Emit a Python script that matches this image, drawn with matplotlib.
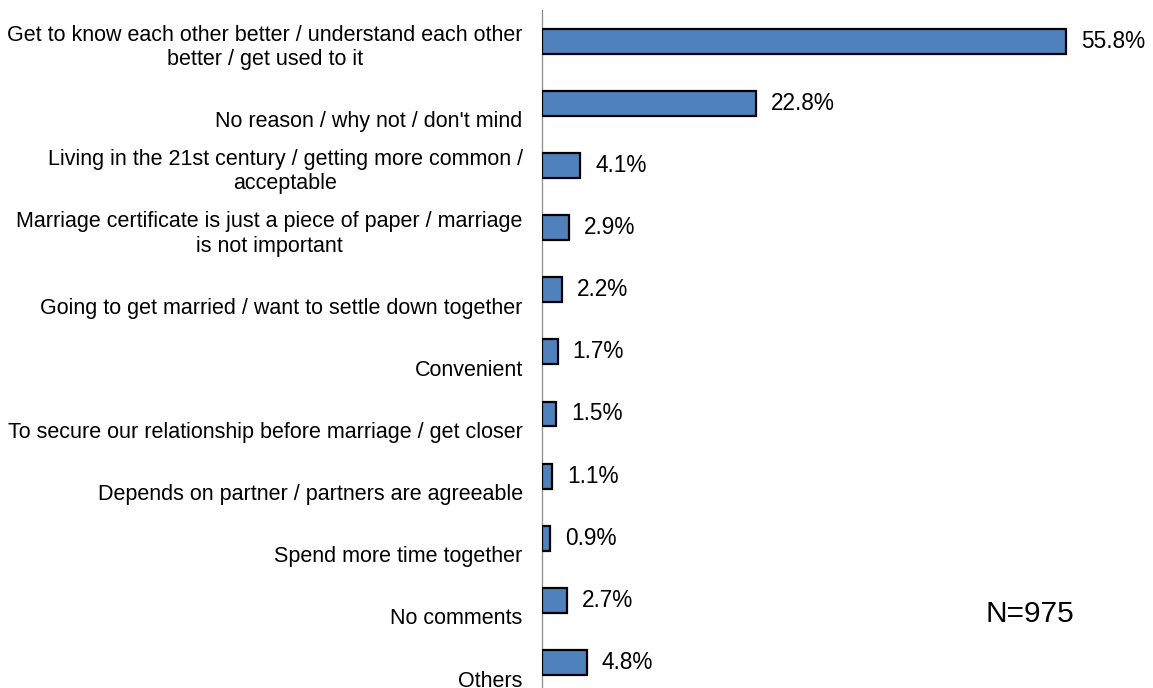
import matplotlib
matplotlib.use("Agg")
import matplotlib.pyplot as plt

# Reasons for living together before marriage (% of respondents)
categories = [
    "Get to know each other better / understand each other\nbetter / get used to it",
    "No reason / why not / don't mind",
    "Living in the 21st century / getting more common /\nacceptable",
    "Marriage certificate is just a piece of paper / marriage\nis not important",
    "Going to get married / want to settle down together",
    "Convenient",
    "To secure our relationship before marriage / get closer",
    "Depends on partner / partners are agreeable",
    "Spend more time together",
    "No comments",
    "Others",
]
values = [55.8, 22.8, 4.1, 2.9, 2.2, 1.7, 1.5, 1.1, 0.9, 2.7, 4.8]
sample_note = "N=975"

plt.rcParams["font.family"] = ["Liberation Sans", "DejaVu Sans"]

W, H, DPI = 1153, 688, 100
fig = plt.figure(figsize=(W / DPI, H / DPI), dpi=DPI)

left_px, top_px = 541.7, 10
ax = fig.add_axes([left_px / W, 0, (W - left_px) / W, (H - top_px) / H])

y = list(range(len(categories)))
ax.barh(y, values, height=0.40, color="#4F81BD", edgecolor="black",
        linewidth=1.6, zorder=3)

ax.set_xlim(0, 65.1)
ax.set_ylim(10.41, -0.5)

for s in ("top", "right", "bottom"):
    ax.spines[s].set_visible(False)
ax.spines["left"].set_color("#8c8c8c")
ax.spines["left"].set_linewidth(0.9)
ax.set_xticks([])
ax.set_yticks([])

# value labels next to each bar
for yi, v in zip(y, values):
    ax.annotate(f"{v}%", xy=(v, yi), xytext=(15, 0), textcoords="offset pixels",
                ha="left", va="center", fontsize=16.3, color="black")

# category labels, right-aligned blocks with centred lines, sitting low in each band
for yi, lab in zip(y, categories):
    ax.annotate(lab, xy=(0, yi), xytext=(-19, -29), textcoords="offset pixels",
                ha="right", va="bottom", multialignment="center",
                fontsize=15.5, color="black", annotation_clip=False)

fig.text(1030 / W, 1 - 614 / H, sample_note, ha="center", va="center",
         fontsize=21.5, color="black")

fig.savefig("out.png", dpi=DPI)
